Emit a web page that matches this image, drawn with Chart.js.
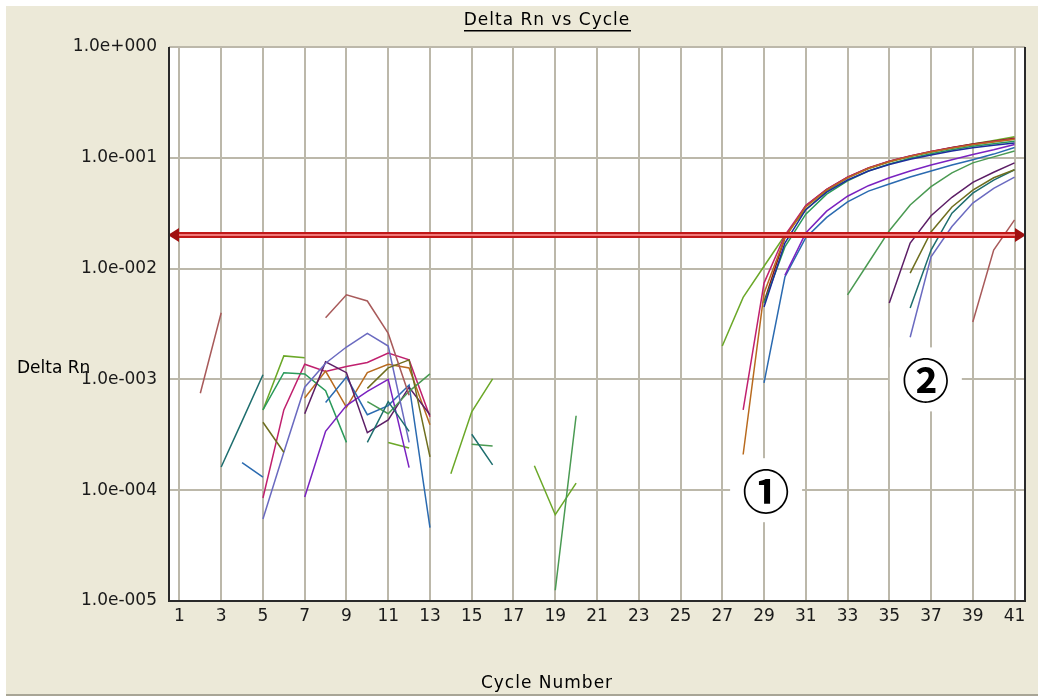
<!DOCTYPE html>
<html>
<head>
<meta charset="utf-8">
<script src="https://cdn.jsdelivr.net/npm/chart.js@4.4.1/dist/chart.umd.min.js"></script>
<style>
html,body{margin:0;padding:0;background:#fff;}
canvas{display:block;}
</style>
</head>
<body>
<canvas id="c" width="1038" height="699"></canvas>
<script>
const N = null;
const cycles = [1,2,3,4,5,6,7,8,9,10,11,12,13,14,15,16,17,18,19,20,21,22,23,24,25,26,27,28,29,30,31,32,33,34,35,36,37,38,39,40,41];
const xTickValues = [1,3,5,7,9,11,13,15,17,19,21,23,25,27,29,31,33,35,37,39,41];
const yTickValues = [1e-5,1e-4,1e-3,1e-2,1e-1,1];
const threshold = 0.02;
const titleText = 'Delta Rn vs Cycle';
const xTitle = 'Cycle Number';
const yTitle = 'Delta Rn';
const markTexts = ['\u2460','\u2461'];
const markCycles = [29.1, 36.75];
const markValues = [1.0e-4, 1.0e-3];

// one array per well, indexed by cycle (1..41); null = not plotted
const yellowGreen = [N,N,N,N,0.00053,0.00163,0.00157,N,N,N,
  0.00027,0.00024,N,0.000141,0.00051,0.00101,N,0.000166,0.00006,0.000116,
  N,N,N,N,N,N,0.0020,0.0055,0.0105,0.020,
  0.034,0.050,0.066,0.080,0.092,0.103,0.113,0.123,0.133,0.143,0.155];
const seaGreen = [N,N,N,N,0.00053,0.00115,0.00112,0.00079,0.00027,N,
  N,N,N,N,N,N,N,N,N,N,
  N,N,N,N,N,N,N,N,0.0049,0.0157,
  0.031,0.047,0.062,0.076,0.088,0.099,0.109,0.118,0.127,0.134,0.141];
const green = [N,N,N,N,N,N,N,N,N,0.00063,
  0.00049,0.00078,0.00112,N,0.00026,0.00025,N,N,0.0000125,0.00047,
  N,N,N,N,N,N,N,N,N,N,
  N,N,0.0058,0.0113,0.022,0.0375,0.055,0.073,0.090,0.102,0.115];
const teal = [N,N,0.000162,0.00042,0.0011,N,N,N,N,0.00027,
  0.00063,0.00034,N,N,0.00032,0.000169,N,N,N,N,
  N,N,N,N,N,N,N,N,N,N,
  N,N,N,N,N,0.0044,0.0147,0.0316,0.048,0.063,0.078];
const blue = [N,N,N,0.000177,0.000131,N,N,0.00062,0.00105,0.00048,
  0.00058,0.00089,0.000046,N,N,N,N,N,N,N,
  N,N,N,N,N,N,N,N,0.00093,0.0084,
  0.019,0.029,0.040,0.050,0.058,0.067,0.076,0.086,0.096,0.108,0.124];
const navy = [N,N,N,N,N,N,N,N,N,N,
  N,N,N,N,N,N,N,N,N,N,
  N,N,N,N,N,N,N,N,0.0045,0.017,
  0.034,0.049,0.063,0.076,0.087,0.097,0.106,0.115,0.123,0.130,0.136];
const slate = [N,N,N,N,0.000055,0.00022,0.00085,0.0014,0.00196,0.0026,
  0.0020,0.00027,N,N,N,N,N,N,N,N,
  N,N,N,N,N,N,N,N,N,N,
  N,N,N,N,N,0.0024,0.0128,0.024,0.039,0.053,0.067];
const violet = [N,N,N,N,N,N,0.000087,0.00034,0.00058,0.00078,
  0.0010,0.00016,N,N,N,N,N,N,N,N,
  N,N,N,N,N,N,N,N,N,0.0087,
  0.021,0.033,0.045,0.056,0.066,0.076,0.086,0.096,0.107,0.118,0.132];
const darkPurple = [N,N,N,N,N,N,0.00049,0.00144,0.00115,0.00033,
  0.00043,0.00085,0.00048,N,N,N,N,N,N,N,
  N,N,N,N,N,N,N,N,N,N,
  N,N,N,N,0.0049,0.017,0.030,0.044,0.060,0.074,0.090];
const crimson = [N,N,N,N,0.000085,0.00053,0.00137,0.00118,0.00131,0.00142,
  0.00173,0.0015,0.00046,N,N,N,N,N,N,N,
  N,N,N,N,N,N,N,0.00053,0.0074,0.020,
  0.037,0.052,0.067,0.081,0.093,0.104,0.114,0.123,0.132,0.140,0.148];
const darkRed = [N,N,N,N,N,N,N,N,N,N,
  N,N,N,N,N,N,N,N,N,N,
  N,N,N,N,N,N,N,N,0.0050,0.019,
  0.037,0.052,0.067,0.081,0.093,0.104,0.114,0.124,0.133,0.141,0.150];
const brown = [N,N,N,N,N,N,0.00068,0.00119,0.00056,0.00115,
  0.00137,0.00127,0.00039,N,N,N,N,N,N,N,
  N,N,N,N,N,N,N,0.00021,0.0060,0.019,
  0.036,0.051,0.066,0.080,0.092,0.103,0.113,0.122,0.131,0.139,0.147];
const olive = [N,N,N,N,0.00041,0.00022,N,N,N,0.00083,
  0.00127,0.0015,0.0002,N,N,N,N,N,N,N,
  N,N,N,N,N,N,N,N,N,N,
  N,N,N,N,N,0.0091,0.0214,0.036,0.051,0.066,0.078];
const rosy = [N,0.00075,0.0040,N,N,N,N,0.0036,0.0058,0.0051,
  0.0026,0.00072,N,N,N,N,N,N,N,N,
  N,N,N,N,N,N,N,N,N,N,
  N,N,N,N,N,N,N,N,0.0033,0.0147,0.0275];

const wells = [
  [rosy,'#A85A5A'],[olive,'#6E6E1E'],[teal,'#1E6E6E'],[slate,'#6A6AC0'],
  [green,'#4A9A52'],[darkPurple,'#5C1E66'],[violet,'#7A22C0'],[blue,'#2A6AB0'],
  [navy,'#1C2C9C'],[seaGreen,'#2A9A5A'],[brown,'#B86A1E'],[crimson,'#C0206E'],
  [darkRed,'#8E1616'],[yellowGreen,'#6BA828']
];

const FONT = '"DejaVu Sans", sans-serif';
const BEIGE = '#ECE9D8';
const GRID = '#BCB8AA';

function fmtExp(v){
  const e = Math.round(Math.log10(v));
  const s = e < 0 ? '-' : '+';
  return '1.0e' + s + String(Math.abs(e)).padStart(3,'0');
}

const decor = {
  id:'decor',
  beforeDraw(chart){
    const ctx = chart.ctx, a = chart.chartArea;
    ctx.save();
    ctx.fillStyle = '#fff';
    ctx.fillRect(0,0,chart.width,chart.height);
    ctx.fillStyle = BEIGE;
    ctx.fillRect(6,6,chart.width-6,689);
    ctx.fillStyle = '#A8A596';
    ctx.fillRect(6,694,chart.width-6,2);
    ctx.fillStyle = '#fff';
    ctx.fillRect(a.left,a.top,a.right-a.left,a.bottom-a.top);
    ctx.restore();
  },
  afterDatasetsDraw(chart){
    const ctx = chart.ctx, a = chart.chartArea;
    const xs = chart.scales.x, ys = chart.scales.y;
    ctx.save();
    // threshold line
    const ty = Math.round(ys.getPixelForValue(threshold));
    ctx.fillStyle = '#C01818';
    ctx.fillRect(a.left+4, ty-3, a.right-a.left-8, 6);
    ctx.fillStyle = '#F07878';
    ctx.fillRect(a.left+4, ty-1, a.right-a.left-8, 2);
    ctx.fillStyle = '#A01010';
    ctx.beginPath();
    ctx.moveTo(a.right+1, ty); ctx.lineTo(a.right-10, ty-7); ctx.lineTo(a.right-10, ty+7); ctx.closePath(); ctx.fill();
    ctx.beginPath();
    ctx.moveTo(a.left-1, ty); ctx.lineTo(a.left+10, ty-7); ctx.lineTo(a.left+10, ty+7); ctx.closePath(); ctx.fill();
    // annotation marks
    for (let i=0;i<markTexts.length;i++){
      const cx = xs.getPixelForValue(markCycles[i]);
      const cy = ys.getPixelForValue(markValues[i]);
      ctx.fillStyle = '#fff';
      ctx.fillRect(cx-36, cy-32, 72, 64);
      ctx.fillStyle = '#000';
      ctx.font = 'bold 47px "Noto Sans CJK JP", "DejaVu Sans", sans-serif';
      ctx.textAlign = 'center';
      ctx.textBaseline = 'middle';
      ctx.fillText(markTexts[i], cx, cy+1);
    }
    // frame
    ctx.fillStyle = '#2A2A2A';
    ctx.fillRect(a.left-1, a.top, 2, a.bottom-a.top+1);
    ctx.fillRect(a.right-1, a.top, 2, a.bottom-a.top+1);
    ctx.fillRect(a.left-1, a.bottom-1, a.right-a.left+2, 2);
    ctx.restore();
  },
  afterDraw(chart){
    const ctx = chart.ctx;
    ctx.save();
    ctx.fillStyle = '#000';
    ctx.font = '17px ' + FONT;
    ctx.letterSpacing = '1px';
    ctx.textBaseline = 'middle';
    ctx.textAlign = 'center';
    const cx = 547;
    ctx.fillText(titleText, cx, 21);
    const w = ctx.measureText(titleText).width;
    ctx.fillRect(Math.round(cx - w/2), 30, Math.round(w), 1.5);
    ctx.fillText(xTitle, cx, 684);
    ctx.textAlign = 'left';
    ctx.letterSpacing = '0px';
    ctx.fillText(yTitle, 17, 369);
    ctx.restore();
  }
};

new Chart(document.getElementById('c').getContext('2d'), {
  type:'line',
  data:{
    datasets: wells.map(([vals,col]) => ({
      data: cycles.map((c,i) => ({x:c, y:vals[i]})),
      borderColor: col,
      borderWidth: 1.5,
      pointRadius: 0,
      fill: false,
      tension: 0,
      spanGaps: false
    }))
  },
  options:{
    responsive:false,
    animation:false,
    events:[],
    layout:{padding:{top:47,right:13,left:0,bottom:0}},
    plugins:{legend:{display:false},tooltip:{enabled:false},title:{display:false}},
    scales:{
      x:{
        type:'linear', min:0.5, max:41.5,
        afterBuildTicks(s){ s.ticks = xTickValues.map(v=>({value:v})); },
        afterFit(s){ s.height = 98; },
        grid:{color:GRID, lineWidth:2, drawTicks:false},
        border:{display:false},
        ticks:{color:'#1A1A1A', font:{family:FONT,size:17}, padding:5, maxRotation:0, autoSkip:false,
          callback:(v)=>String(v)}
      },
      y:{
        type:'logarithmic', min:1e-5, max:1,
        afterBuildTicks(s){ s.ticks = yTickValues.map(v=>({value:v})); },
        afterFit(s){ s.width = 169; },
        grid:{color:GRID, lineWidth:2, drawTicks:false},
        border:{display:false},
        ticks:{color:'#1A1A1A', font:{family:FONT,size:17}, padding:12, autoSkip:false,
          callback:(v)=>fmtExp(v)}
      }
    }
  },
  plugins:[decor]
});
</script>
</body>
</html>
